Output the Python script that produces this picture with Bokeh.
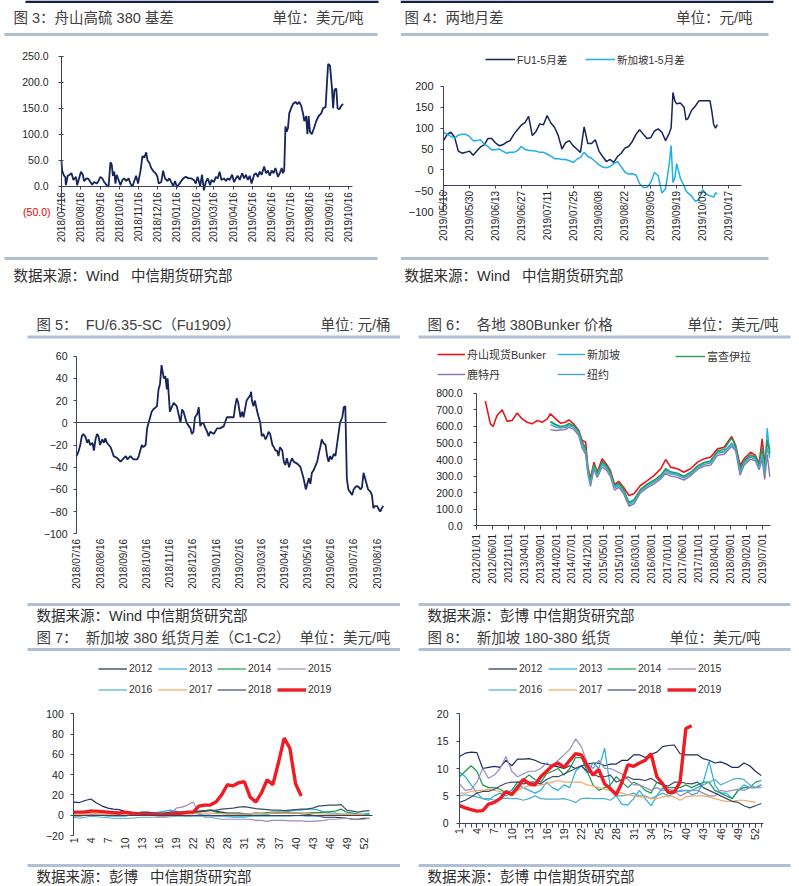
import numpy as np
import pandas as pd
from bokeh.plotting import figure
from bokeh.models import (Label, BoxAnnotation, FixedTicker, DatetimeTickFormatter, DatetimeAxis,
                          LinearAxis, Legend, LegendItem, Range1d)
from bokeh.layouts import gridplot
from bokeh.embed import file_html
from bokeh.resources import INLINE

# ---------------- DATA ----------------
# Fig 3: Zhoushan HSFO 380 basis (USD/t)
P3_DATES = ["2018-07-16","2018-07-17","2018-07-20","2018-07-22","2018-07-23","2018-07-26","2018-07-29",
            "2018-08-01","2018-08-04","2018-08-08","2018-08-10","2018-08-13","2018-08-16","2018-08-19","2018-08-21","2018-08-25","2018-08-28","2018-08-31",
            "2018-09-03","2018-09-06","2018-09-10","2018-09-13","2018-09-16","2018-09-19","2018-09-22","2018-09-26","2018-09-29",
            "2018-10-02","2018-10-04","2018-10-06","2018-10-08","2018-10-10","2018-10-12","2018-10-15","2018-10-18","2018-10-21","2018-10-24","2018-10-27","2018-10-31",
            "2018-11-03","2018-11-06","2018-11-09","2018-11-12","2018-11-15","2018-11-19","2018-11-22","2018-11-25","2018-11-28","2018-11-30",
            "2018-12-03","2018-12-06","2018-12-10","2018-12-13","2018-12-16","2018-12-18","2018-12-22","2018-12-25","2018-12-28",
            "2019-01-01","2019-01-04","2019-01-07","2019-01-10","2019-01-13","2019-01-16","2019-01-20","2019-01-23","2019-01-26","2019-01-30",
            "2019-02-04","2019-02-08","2019-02-12","2019-02-15","2019-02-18","2019-02-22","2019-02-25","2019-02-28",
            "2019-03-03","2019-03-06","2019-03-10","2019-03-12","2019-03-16","2019-03-19","2019-03-22","2019-03-25","2019-03-28",
            "2019-04-01","2019-04-04","2019-04-07","2019-04-10","2019-04-14","2019-04-17","2019-04-20","2019-04-23","2019-04-26","2019-04-30",
            "2019-05-03","2019-05-06","2019-05-09","2019-05-12","2019-05-15","2019-05-19","2019-05-22","2019-05-25","2019-05-28","2019-05-31",
            "2019-06-04","2019-06-07","2019-06-10","2019-06-13","2019-06-16","2019-06-19","2019-06-22","2019-06-26","2019-06-29",
            "2019-07-02","2019-07-04","2019-07-06","2019-07-08","2019-07-10","2019-07-12","2019-07-14","2019-07-17","2019-07-20","2019-07-24","2019-07-27","2019-07-30",
            "2019-08-02","2019-08-05","2019-08-07","2019-08-10","2019-08-12","2019-08-14","2019-08-16","2019-08-19","2019-08-22","2019-08-26","2019-08-30",
            "2019-09-03","2019-09-06","2019-09-10","2019-09-12","2019-09-14","2019-09-17","2019-09-20","2019-09-22","2019-09-24","2019-09-27","2019-09-29",
            "2019-10-02","2019-10-05","2019-10-08"]
P3_BASIS = [48,30,20,18,2,20,22,
            25,12,18,2,15,28,22,10,15,14,8,
            3,8,5,10,18,15,8,2,-1,
            46,42,20,28,5,22,12,2,12,15,10,15,
            5,-1,10,20,5,30,58,55,65,50,
            45,35,28,25,18,5,8,30,15,
            10,15,8,0,10,-2,5,10,15,18,
            15,15,12,5,18,0,22,-8,
            8,15,2,12,8,18,15,28,12,
            15,10,15,12,22,8,15,20,12,25,
            15,22,12,20,5,22,25,18,28,22,
            38,25,30,20,30,25,35,18,25,
            35,25,30,115,105,112,140,150,158,162,158,162,
            155,140,125,135,100,135,105,100,110,125,135,
            140,150,152,195,235,232,190,150,185,188,150,
            148,155,158]
P3_XTICKS = ["2018-07-16","2018-08-16","2018-09-16","2018-10-16","2018-11-16","2018-12-16","2019-01-16",
             "2019-02-16","2019-03-16","2019-04-16","2019-05-16","2019-06-16","2019-07-16","2019-08-16",
             "2019-09-16","2019-10-16"]
P3_YTICKS = [-50, 0, 50, 100, 150, 200, 250]

# Fig 4: FU 1-5 spread vs Singapore 1-5 spread (CNY/t)
P4_DATES = ["2019-05-16","2019-05-18","2019-05-20","2019-05-22","2019-05-24","2019-05-26","2019-05-28","2019-05-30",
            "2019-06-01","2019-06-03","2019-06-05","2019-06-07","2019-06-09","2019-06-11","2019-06-13","2019-06-15",
            "2019-06-17","2019-06-19","2019-06-21","2019-06-23","2019-06-25","2019-06-27","2019-06-29",
            "2019-07-01","2019-07-03","2019-07-05","2019-07-07","2019-07-09","2019-07-11","2019-07-13","2019-07-15",
            "2019-07-17","2019-07-19","2019-07-21","2019-07-23","2019-07-25","2019-07-27","2019-07-29","2019-07-31",
            "2019-08-02","2019-08-04","2019-08-06","2019-08-08","2019-08-10","2019-08-12","2019-08-14","2019-08-16",
            "2019-08-18","2019-08-20","2019-08-22","2019-08-24","2019-08-26","2019-08-28","2019-08-30",
            "2019-09-01","2019-09-03","2019-09-05","2019-09-07","2019-09-09","2019-09-11","2019-09-13","2019-09-15",
            "2019-09-16","2019-09-17","2019-09-18","2019-09-19","2019-09-21","2019-09-23","2019-09-24","2019-09-25",
            "2019-09-27","2019-09-29","2019-10-01","2019-10-03","2019-10-05","2019-10-07","2019-10-08","2019-10-09",
            "2019-10-10","2019-10-11"]
P4_FU = [70,85,90,78,45,40,42,45,
         35,45,55,60,75,75,65,58,
         60,66,70,85,96,107,113,
         128,82,92,110,108,130,112,102,
         82,50,65,70,58,50,42,103,
         63,63,72,45,32,20,25,18,
         32,40,52,56,68,85,96,
         85,75,77,93,98,90,70,88,
         100,185,165,158,160,150,120,122,
         142,152,165,165,165,165,140,108,
         100,108]
P4_SG = [90,85,80,76,83,85,85,80,
         70,70,72,62,56,48,48,50,
         45,40,42,42,46,56,49,
         47,46,45,42,42,38,33,27,
         27,25,25,22,18,25,30,42,
         32,28,20,12,7,5,8,15,
         20,8,-5,-10,-9,-12,-33,
         -42,-42,-30,-6,-14,-55,-45,15,
         58,-30,-20,15,-20,-38,-50,-55,
         -62,-75,-72,-47,-58,-62,-63,-65,
         -55,-58]
P4_XTICKS = ["2019-05-16","2019-05-30","2019-06-13","2019-06-27","2019-07-11","2019-07-25","2019-08-08",
             "2019-08-22","2019-09-05","2019-09-19","2019-10-03","2019-10-17"]

# Fig 5: FU/6.35 - SC (Fu1909), CNY/bbl
P5_DATES = ["2018-07-16","2018-07-19","2018-07-21","2018-07-23","2018-07-25","2018-07-28","2018-07-30",
            "2018-08-01","2018-08-03","2018-08-06","2018-08-08","2018-08-10","2018-08-12","2018-08-14","2018-08-16","2018-08-19","2018-08-21","2018-08-23","2018-08-25","2018-08-30",
            "2018-09-03","2018-09-08","2018-09-12","2018-09-16","2018-09-19","2018-09-21","2018-09-25","2018-09-29",
            "2018-10-04","2018-10-06","2018-10-08","2018-10-10","2018-10-12","2018-10-15","2018-10-17","2018-10-19","2018-10-21","2018-10-23","2018-10-25","2018-10-30",
            "2018-11-01","2018-11-03","2018-11-05","2018-11-08","2018-11-10","2018-11-12","2018-11-13","2018-11-16","2018-11-19","2018-11-21","2018-11-25","2018-11-30",
            "2018-12-02","2018-12-04","2018-12-06","2018-12-08","2018-12-11","2018-12-13","2018-12-15","2018-12-17","2018-12-19","2018-12-22","2018-12-24","2018-12-26","2018-12-28","2018-12-30",
            "2019-01-02","2019-01-04","2019-01-06","2019-01-08","2019-01-13","2019-01-17","2019-01-21","2019-01-26","2019-01-30",
            "2019-02-04","2019-02-08","2019-02-10","2019-02-12","2019-02-14","2019-02-17","2019-02-19","2019-02-21","2019-02-25",
            "2019-03-02","2019-03-03","2019-03-04","2019-03-06","2019-03-08","2019-03-11","2019-03-13","2019-03-15","2019-03-17","2019-03-19","2019-03-22","2019-03-24","2019-03-26","2019-03-28","2019-03-31",
            "2019-04-02","2019-04-04","2019-04-06","2019-04-08","2019-04-10","2019-04-13","2019-04-15","2019-04-17","2019-04-19","2019-04-22","2019-04-24","2019-04-26","2019-04-28",
            "2019-05-03","2019-05-07","2019-05-09","2019-05-11","2019-05-14","2019-05-16","2019-05-18","2019-05-20","2019-05-22","2019-05-24","2019-05-26","2019-05-29","2019-05-31",
            "2019-06-02","2019-06-04","2019-06-06","2019-06-09","2019-06-11","2019-06-13","2019-06-15","2019-06-17","2019-06-20","2019-06-22","2019-06-24","2019-06-26","2019-06-28",
            "2019-07-01","2019-07-03","2019-07-05","2019-07-07","2019-07-09","2019-07-11","2019-07-14","2019-07-16","2019-07-18","2019-07-20","2019-07-23","2019-07-25","2019-07-27","2019-07-29","2019-07-31",
            "2019-08-02","2019-08-04","2019-08-07","2019-08-09","2019-08-11","2019-08-13","2019-08-16","2019-08-18","2019-08-20","2019-08-22","2019-08-24"]
P5_SPREAD = [-30,-25,-20,-12,-10,-13,-18,
             -15,-20,-18,-25,-15,-10,-12,-20,-15,-18,-14,-18,-22,
             -30,-32,-35,-32,-30,-33,-30,-33,
             -33,-30,-25,-20,-22,-20,-5,0,5,10,12,15,
             30,35,52,40,42,30,40,10,15,18,15,0,
             12,10,5,0,-3,-5,-10,-8,5,8,14,-3,0,0,
             -5,-8,-12,-8,-10,-5,-5,-3,5,
             5,5,15,22,18,5,10,5,20,
             25,28,20,15,20,10,5,0,-12,-10,-15,-12,-8,-10,-20,
             -22,-25,-25,-30,-22,-25,-35,-38,-32,-40,-35,-32,-35,
             -37,-40,-45,-50,-60,-55,-50,-55,-45,-43,-40,-35,-28,
             -22,-15,-18,-20,-30,-35,-30,-33,-28,-30,-20,-10,0,
             5,14,15,-50,-60,-62,-65,-60,-58,-57,-58,-60,-58,-45,-50,
             -55,-60,-62,-65,-77,-75,-75,-78,-80,-77,-75]
P5_XTICKS = ["2018-07-16","2018-08-16","2018-09-16","2018-10-16","2018-11-16","2018-12-16","2019-01-16",
             "2019-02-16","2019-03-16","2019-04-16","2019-05-16","2019-06-16","2019-07-16","2019-08-16"]

# Fig 6: 380 bunker prices by port (USD/t)
P6_ZS_DATES = ["2012-03-26","2012-05-13","2012-06-08","2012-07-16","2012-09-03","2012-10-21","2012-12-07",
               "2013-01-25","2013-03-13","2013-05-01","2013-06-16","2013-08-04","2013-09-21","2013-11-09",
               "2013-12-10",
               "2014-01-28","2014-03-16","2014-05-01","2014-06-04","2014-07-21","2014-09-07","2014-10-09","2014-11-12","2014-12-03","2014-12-28",
               "2015-01-31","2015-03-03","2015-04-19","2015-06-01","2015-07-07","2015-08-16","2015-09-25","2015-11-10",
               "2016-01-01","2016-02-18","2016-04-20","2016-06-25","2016-08-28","2016-11-01","2016-12-18",
               "2017-02-03","2017-04-10","2017-06-10","2017-08-12","2017-10-20","2017-12-20",
               "2018-02-20","2018-04-28","2018-07-01","2018-09-12","2018-10-20","2018-12-01",
               "2019-01-08","2019-03-12","2019-04-28","2019-06-01","2019-07-01","2019-07-25","2019-08-18","2019-09-12"]
P6_ZHOUSHAN = [752,615,599,665,700,631,635,
               681,645,625,615,635,625,645,
               676,
               645,619,625,639,615,575,515,505,354,285,
               384,323,404,370,334,250,268,233,
               183,193,243,273,303,344,400,
               354,344,323,344,384,404,
               414,464,474,539,484,364,
               404,444,424,374,525,374,504,464]
P6_DATES = ["2013-12-10",
            "2014-01-28","2014-03-16","2014-05-01","2014-06-04","2014-07-21","2014-09-07","2014-10-09","2014-11-12","2014-12-03","2014-12-28",
            "2015-01-31","2015-03-03","2015-04-19","2015-06-01","2015-07-07","2015-08-16","2015-09-25","2015-11-10",
            "2016-01-01","2016-02-18","2016-04-20","2016-06-25","2016-08-28","2016-11-01","2016-12-18",
            "2017-02-03","2017-04-10","2017-06-10","2017-08-12","2017-10-20","2017-12-20",
            "2018-02-20","2018-04-28","2018-07-01","2018-09-12","2018-10-20","2018-12-01",
            "2019-01-08","2019-03-12","2019-04-28","2019-06-01","2019-07-01","2019-07-25","2019-08-18","2019-09-12"]
P6_SINGAPORE = [625, 605,595,598,612,600,565,500,455,340,260, 365,310,380,355,318,235,250,215,
                135,152,215,248,270,300,340, 320,312,295,318,358,378, 385,445,450,500,470,330,
                385,420,408,360,450,330,589,430]
P6_FUJAIRAH = [630, 612,600,604,618,606,572,510,468,350,268, 372,318,388,362,325,242,258,222,
               142,158,220,253,275,306,345, 326,318,300,322,362,383, 392,452,462,530,480,345,
               392,428,415,368,470,345,520,445]
P6_ROTTERDAM = [580, 575,578,580,595,582,545,470,430,315,238, 340,292,355,335,298,215,232,195,
                118,132,198,230,252,282,318, 300,292,276,300,340,360, 365,425,432,480,452,305,
                365,402,390,338,400,280,430,295]
P6_NEWYORK = [610, 595,590,592,605,594,556,488,445,330,250, 355,302,370,345,310,228,242,205,
              128,142,208,240,262,292,330, 312,304,288,310,350,370, 378,438,445,492,462,322,
              378,414,400,350,430,315,470,410]
P6_XTICKS = ["2012-01-01","2012-06-01","2012-11-01","2013-04-01","2013-09-01","2014-02-01","2014-07-01",
             "2014-12-01","2015-05-01","2015-10-01","2016-03-01","2016-08-01","2017-01-01","2017-06-01",
             "2017-11-01","2018-04-01","2018-09-01","2019-02-01","2019-07-01"]

# Fig 7: Singapore 380 swap C1-C2 spread by week (USD/t)
P7_2012 = [13,12.5,14.5,16,12,9,7,6,5.5,3.5, 3,2,3,3,2,1.5,2,3,3.5,3, 3,3.5,4,4.5,5,4,3,2,2,2,
           1.5,1.5,2,1.5,1.5,2,2,2.5,2,2, 1.5,1,0,-1,-2,-2,-2,-2.5,-3,-4, -4,-3,-3]
P7_2013 = [0,-1,0,0.5,0,0,-1,-1,-1,-1, 0,0,1,1,2,3,4,5,4,3, 2,2,1,0,0,-1,-1,-1.5,-2,-2,
           -2,-1,0,0,1,2,3,3,4,5, 5,6,6,5,3,2,2,1,0,0, 0,0,2]
P7_2014 = [2,3,4,5,4,3,3,3,3,2, 2,2,2,1.5,1.5,1,1,1,1.5,2, 2,2.5,3,4,5,3,2,1.5,1.5,1,
           1,1,1.5,2,2.5,3,3,2.5,2,2, 2,2,2.5,2.5,3,3.5,4,6,3,2, 1,1,1]
P7_2015 = [-1,-1,0,1,1,1,0.5,0,0,0, 0,0.5,1,1,1,0.5,0,0,7,8, 10,13,2,-2,-2,-3,-4,-4,-4,-4,
           -4,-4,-5,-5,-6,-5,-5,-5,-5.5,-5.5, -5.5,-6,-6,-5.5,-5,-4,-4,-3.5,-3,-4, -4,-4,-3]
P7_2016 = [-2,-3,-2,-1,-1.5,-2,-2.5,-3,-3,-3, -3,-2.5,-2,-2,-2,-2,-2,-1.5,-1,-1, -1.5,-1,-1,-1,-1,-1,-1,-1,-1.5,-1.5,
           -1,-1,-1,-1,-1,-1,-1,-1,-1,-0.5, -0.5,-1,-1,-1,-0.5,0,0,0.5,1,1, 0.5,0,0]
P7_2017 = [0.5,0.5,1,1.5,1.5,1,1,0.5,0.5,0.5, 1,1,1.5,1.5,1,0.5,0,0,0.5,1, 1,1.5,2,2,2,1.5,1.5,1,1,1,
           1,1.5,1.5,1.5,1.5,2,2,2,2,2, 2,1.5,1.5,1.5,1,1,1,1,1,0.5, 0.5,0.5]
P7_2018 = [3,3,3.5,4,4,3.5,3,3,2.5,2.5, 2.5,2,2,2,2,2,2,2.5,2.5,3, 3,3,3.5,4,4.5,5,6,6.5,7,8,
           8.5,7.5,6.5,6,5.5,5,5,4.5,5,5.5, 6,6,7,9,9.5,10,10,10.5,5,4, 3,4,4.5]
P7_2019 = [3,3,3,4,4,3.5,3,2.5,2,3, 2,1.5,1,1,1,0.5,0.5,1,2,2, 3,3,9,10,10,13,20,30,29,32,
           33,18,13,22,35,30,52,76,66,31, 19]

# Fig 8: Singapore 180-380 swap spread by week (USD/t)
P8_2012 = [12.2,12.8,13,12.9,10,10.2,10.4,10.2,11.5,10.5, 11.7,11.7,11.8,11.5,11,10.8,10.5,10.3,10,10.5,
           10,10.5,10.8,11,11,10.5,10.8,10.8,11.5,11.5, 12.5,12.5,12,12.6,13,14,14.2,14.3,12.7,12.5,
           12.5,12.5,11.8,11.5,11,11.2,10.8,10.2,10.2,11, 10.5,9.5,8.7]
P8_2013 = [9.3,8.5,7,5.5,4.5,4.2,5,5.5,5,5.5, 7,6.5,6,5.5,6,7.5,6.5,6,7,6.5, 9.5,10.5,9.2,11,10,13.7,6.5,5,3.5,3.3,
           4.5,6,4.5,3.2,5,6.5,5.5,6,5.8,6, 5.2,5.5,7.5,11.3,7,5.5,5.5,4.5,6,7, 6.5,6.5,7]
P8_2014 = [8.5,9.5,10.5,9.5,7,6.5,6.5,6.2,5.5,6, 7.5,8,8.8,8,7.5,9,9.5,10,8.8,10, 12,12,9.5,7,6,6.5,7,8.5,7.5,6.5,
           7.5,7,6,5.5,7.5,7,6.5,6.5,6.5,7, 6.5,7,7.5,7.5,6,5.5,5,4.5,6,6.5, 6.5,7.5,7.8]
P8_2015 = [7.2,6,6.2,7.5,10,8.2,8.8,10,12.2,9.5, 8.5,9,9.5,9.5,10,11,10.5,11.5,12.5,13.5, 15.4,14,11,10,11.5,10,10,9.5,9,8,
           7,7,6.5,6,6.5,6,6.2,6,5,5.5, 6,6,5.5,5,5,6,5.8,6,6.2,6, 6.5,6.5,6.5]
P8_2016 = [5,5.2,5,4.8,4.5,4.5,4.2,4.5,4.6,4.5, 4.5,4.2,4.5,5,4.5,4.4,4.4,4.4,4.5,4.2, 3.8,4.5,4.6,4.5,4.5,4.5,4.2,5,5,5.2,
           5.5,5,5,4.5,5,5.5,5,5.5,6,6, 6,6.5,7,7.5,8,7,7.5,8,8.2,8, 7,6.5,7]
P8_2017 = [5.5,5.5,5.8,6,6,6.2,6,5.8,5.5,5.5, 6,6.5,6.8,6.8,7,7.2,7.5,7.8,7.5,7.5, 7.5,7.5,7,6.8,6.5,6.2,6,5.8,5.5,5.2,
           5,4.8,4.8,4.5,4.5,4.8,5,4.8,4.2,4.8, 5,5,5,4.8,4.5,4.2,4,4,4.2,4.2, 4,3.8]
P8_2018 = [3.8,4.2,4.8,5.5,5.8,5.8,6.2,6.8,7.3,7.5, 7.5,7.2,7.5,7.5,7.2,8,8.5,8.5,9,9.5, 10,10.5,9.5,9,8.5,8.5,8.8,7.5,8,8.5,
           8,8,7.8,8.2,7.5,7,6.8,7.5,7.5,7.3, 7.2,7.5,6.5,6,5.5,5,4.5,4,3.8,3.2, 2.8,3.2,3.6]
P8_2019 = [3.2,2.8,2.5,2.2,2.3,3.5,3.8,4.5,5.8,5.2, 6.5,8,7.2,7.0,8.5,9.5,10.5,11,10.2,11.5,
           12.7,12.5,10.5,8.8,9.8,7.2,6.3,5.2,7.5,10.7, 10.4,11,11.5,12.7,8.5,7.2,5.6,5.7,7.5,17.3, 17.8]

YEARS = ["2012", "2013", "2014", "2015", "2016", "2017", "2018", "2019"]
WEEK_TICKS = [1, 4, 7, 10, 13, 16, 19, 22, 25, 28, 31, 34, 37, 40, 43, 46, 49, 52]

# ---------------- STYLE ----------------
FONT = "Liberation Sans, Noto Sans CJK SC"
NUM_FONT = "Liberation Sans"
AX = "#3B4260"
NAVY = "#15255A"
SKY = "#1CB0E6"
SEP = "#AFC0D4"
TOPBAR = "#13204B"
TITLE_C = "#404040"
YEAR_COLORS = ["#1C2B5E", "#27AEE3", "#1A9B54", "#9C8BBE", "#4FAFC9", "#F4A765", "#3D4B6B", "#EE1C24"]
PORT_COLORS = ["#E8161C", "#21B2EA", "#1E9E57", "#8B74B0", "#4AA7C2"]
SP = "\u00a0"

LW, RW = 400, 398           # column widths
H1, H2, H3 = 296, 332, 257  # row heights


def dt(lst):
    return pd.to_datetime(lst)


def ms1(d):
    return pd.Timestamp(d).timestamp() * 1000.0


def ms(lst):
    return [ms1(d) for d in lst]


def pair(a, b):
    n = min(len(a), len(b))
    return a[:n], b[:n]


def span_range(va, pa, vb, pb, size):
    """Range whose value va sits at pixel pa and vb at pixel pb of a frame of `size` px."""
    k = (vb - va) / (pb - pa)
    return (va - pa * k, va + (size - pa) * k)


def style_axis(ax):
    ax.axis_line_color = AX
    ax.axis_line_width = 1
    ax.major_tick_line_color = AX
    ax.minor_tick_line_color = None
    ax.major_tick_in = 0
    ax.major_tick_out = 3
    ax.major_label_text_font = NUM_FONT
    ax.major_label_text_font_size = "10.5px"
    ax.major_label_text_color = "#1E1E28"


def base(W, H, xr, yr, xtype="linear"):
    # the frame covers the whole canvas; axes sit at fixed data locations inside it
    p = figure(width=W, height=H, x_range=Range1d(*xr), y_range=Range1d(*yr), x_axis_type=xtype,
               output_backend="svg", toolbar_location=None, title=None,
               min_border=0, min_border_left=0, min_border_right=0,
               min_border_top=0, min_border_bottom=0)
    p.outline_line_color = None
    p.grid.visible = False
    p.background_fill_color = "white"
    p.border_fill_color = "white"
    for ax in p.axis:
        style_axis(ax)
    return p


def stext(p, H, x, ytop, text, size="14.5px", color=TITLE_C, align="left", font=FONT):
    p.add_layout(Label(x=x, y=H - ytop, x_units="screen", y_units="screen", text=text,
                       text_font=font, text_font_size=size, text_color=color,
                       text_align=align, text_baseline="middle"))


def sbox(p, H, l, r, t, b, color):
    p.add_layout(BoxAnnotation(left=l, right=r, top=H - t, bottom=H - b,
                               left_units="screen", right_units="screen",
                               top_units="screen", bottom_units="screen",
                               fill_color=color, fill_alpha=1.0, line_color=None,
                               level="overlay"))


def frame_texts(p, H, title, unit, unit_right, source, tx, ty, sy, sep_l, sep_r, s1, s2):
    stext(p, H, tx, ty, title)
    stext(p, H, unit_right, ty, unit, align="right")
    sbox(p, H, sep_l, sep_r, s1, s1 + 3, SEP)
    sbox(p, H, sep_l, sep_r, s2, s2 + 3, SEP)
    stext(p, H, tx, sy, source, color="#2E2E2E")


def date_axis(ax, ticks):
    ax.ticker = FixedTicker(ticks=ms(ticks))
    fmt = "%Y/%m/%d"
    ax.formatter = DatetimeTickFormatter(days=fmt, months=fmt, years=fmt, hours=fmt, minutes=fmt)
    ax.major_label_orientation = np.pi / 2
    ax.major_label_text_font_size = "10px"


def legend_column(p, items, vx, vy, gw, gh, lw, fs, spacing=4):
    leg = Legend(items=items, location=(vx, vy), orientation="vertical",
                 glyph_width=gw, glyph_height=gh, label_height=gh, label_width=lw,
                 label_standoff=2, spacing=spacing, padding=0, margin=0,
                 border_line_color=None, background_fill_alpha=0.0,
                 label_text_font=FONT, label_text_font_size=fs, label_text_color="#333333",
                 label_text_baseline="middle")
    p.add_layout(leg)


def zero_line(p, loc, x0, x1, datetime=False):
    ax = DatetimeAxis() if datetime else LinearAxis()
    style_axis(ax)
    ax.fixed_location = loc
    ax.bounds = (x0, x1)
    ax.ticker = FixedTicker(ticks=[])
    ax.major_tick_line_color = None
    ax.major_label_text_alpha = 0
    p.add_layout(ax, "below")


# ---------------- FIG 3 ----------------
x0, x1 = ms1("2018-07-16"), ms1("2019-10-16")
p3 = base(LW, H1, span_range(x0, 61, x1, 347.7, LW), span_range(0, H1 - 185.7, 250, H1 - 55.7, H1), "datetime")
d3, v3 = pair(P3_DATES, P3_BASIS)
p3.line(dt(d3), v3, line_color=NAVY, line_width=1.8)
p3.xaxis.fixed_location = 0
p3.xaxis.bounds = (x0, ms1("2019-10-23"))
date_axis(p3.xaxis[0], P3_XTICKS)
p3.xaxis.major_label_standoff = 3
p3.yaxis.fixed_location = x0
p3.yaxis.bounds = (-50, 250)
p3.yaxis.major_tick_in = 2
p3.yaxis.major_label_standoff = 10
p3.yaxis.ticker = FixedTicker(ticks=P3_YTICKS)
p3.yaxis.major_label_overrides = {-50: " ", 0: "0.0", 50: "50.0", 100: "100.0", 150: "150.0",
                                  200: "200.0", 250: "250.0"}
p3.add_layout(Label(x=50, y=-50, x_units="screen", y_units="data", text="(50.0)",
                    text_font=NUM_FONT, text_font_size="10.5px", text_color="#E00000",
                    text_align="right", text_baseline="middle"))
sbox(p3, H1, 25, 378, 0, 2.5, TOPBAR)
frame_texts(p3, H1, "图 3：舟山高硫 380 基差", "单位：美元/吨", 363,
            "数据来源：Wind" + SP * 3 + "中信期货研究部", 13, 17, 275, 4, 377, 32.5, 256.5)

# ---------------- FIG 4 ----------------
x0, x1 = ms1("2019-05-16"), ms1("2019-10-17")
p4 = base(RW, H1, span_range(x0, 43, x1, 328, RW), span_range(-100, H1 - 211.3, 200, H1 - 85.7, H1), "datetime")
d4, fu = pair(P4_DATES, P4_FU)
d4b, sg = pair(P4_DATES, P4_SG)
r_fu = p4.line(dt(d4), fu, line_color=NAVY, line_width=1.5)
r_sg = p4.line(dt(d4b), sg, line_color=SKY, line_width=1.5)
p4.xaxis.fixed_location = -38
p4.xaxis.bounds = (x0, ms1("2019-10-24"))
date_axis(p4.xaxis[0], P4_XTICKS)
p4.xaxis.major_label_standoff = 2
p4.yaxis.fixed_location = x0
p4.yaxis.bounds = (-100, 200)
p4.yaxis.major_label_standoff = 7
p4.yaxis.ticker = FixedTicker(ticks=[-100, -50, 0, 50, 100, 150, 200])
p4.yaxis.major_label_text_font_size = "11px"
legend_column(p4, [LegendItem(label="FU1-5月差", renderers=[r_fu])], 85, H1 - 68, 30, 18, 60, "10.5px")
legend_column(p4, [LegendItem(label="新加坡1-5月差", renderers=[r_sg])], 185, H1 - 68, 30, 18, 60, "10.5px")
sbox(p4, H1, 0, 373, 0, 2.5, TOPBAR)
frame_texts(p4, H1, "图 4：两地月差", "单位：元/吨", 352,
            "数据来源：Wind" + SP * 3 + "中信期货研究部", 4, 17, 275, 0, 368, 32.5, 256.5)

# ---------------- FIG 5 ----------------
x0, x1 = ms1("2018-07-16"), ms1("2019-08-16")
p5 = base(LW, H2, span_range(x0, 76, x1, 376.7, LW), span_range(-100, H2 - 237.3, 60, H2 - 59.7, H2), "datetime")
d5, v5 = pair(P5_DATES, P5_SPREAD)
zero_line(p5, 0, x0, ms1("2019-08-28"), datetime=True)
p5.line(dt(d5), v5, line_color=NAVY, line_width=1.8)
ax5 = p5.xaxis[0]
ax5.fixed_location = -100
date_axis(ax5, P5_XTICKS)
ax5.axis_line_color = None
ax5.major_tick_line_color = None
ax5.major_tick_out = 0
ax5.major_label_standoff = 5
p5.yaxis.fixed_location = x0
p5.yaxis.bounds = (-100, 60)
p5.yaxis.major_label_standoff = 6
p5.yaxis.ticker = FixedTicker(ticks=[-100, -80, -60, -40, -20, 0, 20, 40, 60])
frame_texts(p5, H2, "图 5：" + SP * 2 + "FU/6.35-SC（Fu1909）", "单位: 元/桶", 390,
            "数据来源：Wind 中信期货研究部", 36, 28, 319, 27, 400, 39, 306.5)

# ---------------- FIG 6 ----------------
x0, x1 = ms1("2012-01-01"), ms1("2019-07-01")
p6 = base(RW, H2, span_range(x0, 76, x1, 361.7, RW), span_range(0, H2 - 229.3, 800, H2 - 96.7, H2), "datetime")
dz, vz = pair(P6_ZS_DATES, P6_ZHOUSHAN)
r_zs = p6.line(dt(dz), vz, line_color=PORT_COLORS[0], line_width=1.6)
rs6 = [r_zs]
for vals, col in zip([P6_SINGAPORE, P6_FUJAIRAH, P6_ROTTERDAM, P6_NEWYORK], PORT_COLORS[1:]):
    dd, vv = pair(P6_DATES, vals)
    rs6.append(p6.line(dt(dd), vv, line_color=col, line_width=1.4))
ax6 = p6.xaxis[0]
ax6.fixed_location = 0
ax6.bounds = (x0, ms1("2019-09-22"))
date_axis(ax6, P6_XTICKS)
ax6.major_tick_out = 4
ax6.major_label_standoff = 4
p6.yaxis.fixed_location = x0
p6.yaxis.bounds = (0, 800)
p6.yaxis.major_label_standoff = 11
p6.yaxis.ticker = FixedTicker(ticks=list(range(0, 801, 100)))
p6.yaxis.major_label_overrides = {v: f"{v:.1f}" for v in range(0, 801, 100)}
names6 = ["舟山现货Bunker", "新加坡", "富查伊拉", "鹿特丹", "纽约"]
items6 = [LegendItem(label=l, renderers=[r]) for l, r in zip(names6, rs6)]
legend_column(p6, [items6[0], items6[3]], 37, H2 - 86, 28, 14, 80, "11px", spacing=4)
legend_column(p6, [items6[1], items6[4]], 157, H2 - 86, 28, 14, 40, "11px", spacing=4)
legend_column(p6, [items6[2]], 275, H2 - 68, 30, 14, 40, "11px", spacing=4)
frame_texts(p6, H2, "图 6：" + SP * 2 + "各地 380Bunker 价格", "单位：美元/吨", 378,
            "数据来源：彭博 中信期货研究部", 27, 28, 319, 18, 390, 39, 306.5)

# ---------------- FIG 7 ----------------
p7 = base(LW, H3, span_range(1, 73.3, 52, 363.3, LW), span_range(-20, H3 - 207, 100, H3 - 85.3, H3))
zero_line(p7, 0, 1, 53.5)
series7 = [P7_2012, P7_2013, P7_2014, P7_2015, P7_2016, P7_2017, P7_2018, P7_2019]
rs7 = []
for yr, vals, col in zip(YEARS, series7, YEAR_COLORS):
    wk = list(range(1, len(vals) + 1))
    rs7.append(p7.line(wk, vals, line_color=col, line_width=3.4 if yr == "2019" else 1.2))
ax7 = p7.xaxis[0]
ax7.fixed_location = -20
ax7.ticker = FixedTicker(ticks=WEEK_TICKS)
ax7.major_label_orientation = np.pi / 2
ax7.axis_line_color = None
ax7.major_tick_line_color = None
ax7.major_tick_out = 0
ax7.major_label_standoff = 2
p7.yaxis.fixed_location = 1
p7.yaxis.bounds = (-20, 100)
p7.yaxis.major_label_standoff = 7
p7.yaxis.ticker = FixedTicker(ticks=[-20, 0, 20, 40, 60, 80, 100])
items7 = [LegendItem(label=y, renderers=[r]) for y, r in zip(YEARS, rs7)]
for c, lx in enumerate([98, 158, 217, 277]):
    legend_column(p7, [items7[c], items7[c + 4]], lx, H3 - 69.5, 29, 17, 25, "10.5px")
frame_texts(p7, H3, "图 7：" + SP * 2 + "新加坡 380 纸货月差（C1-C2）", "单位：美元/吨", 390,
            "数据来源：彭博" + SP * 3 + "中信期货研究部", 36, 9, 248, 27, 400, 19.5, 235.5)

# ---------------- FIG 8 ----------------
p8 = base(RW, H3, span_range(1, 59, 52, 355, RW), span_range(0, H3 - 194.7, 20, H3 - 85.3, H3))
series8 = [P8_2012, P8_2013, P8_2014, P8_2015, P8_2016, P8_2017, P8_2018, P8_2019]
rs8 = []
for yr, vals, col in zip(YEARS, series8, YEAR_COLORS):
    wk = list(range(1, len(vals) + 1))
    rs8.append(p8.line(wk, vals, line_color=col, line_width=3.4 if yr == "2019" else 1.2))
ax8 = p8.xaxis[0]
ax8.fixed_location = 0
ax8.bounds = (1, 53.3)
ax8.ticker = FixedTicker(ticks=WEEK_TICKS, minor_ticks=list(range(1, 54)))
ax8.major_tick_out = 4
ax8.minor_tick_line_color = AX
ax8.minor_tick_in = 0
ax8.minor_tick_out = 4
ax8.major_label_orientation = np.pi / 2
ax8.major_label_standoff = 1
p8.yaxis.fixed_location = 1
p8.yaxis.bounds = (0, 20)
p8.yaxis.major_label_standoff = 8
p8.yaxis.ticker = FixedTicker(ticks=[0, 5, 10, 15, 20])
items8 = [LegendItem(label=y, renderers=[r]) for y, r in zip(YEARS, rs8)]
for c, lx in enumerate([88, 148, 207, 267]):
    legend_column(p8, [items8[c], items8[c + 4]], lx, H3 - 69.5, 29, 17, 25, "10.5px")
frame_texts(p8, H3, "图 8：" + SP * 2 + "新加坡 180-380 纸货", "单位：美元/吨", 360,
            "数据来源：彭博 中信期货研究部", 27, 9, 248, 18, 390, 19.5, 235.5)

grid = gridplot([[p3, p4], [p5, p6], [p7, p8]], toolbar_location=None)
open("out.html", "w").write(file_html(grid, INLINE))
